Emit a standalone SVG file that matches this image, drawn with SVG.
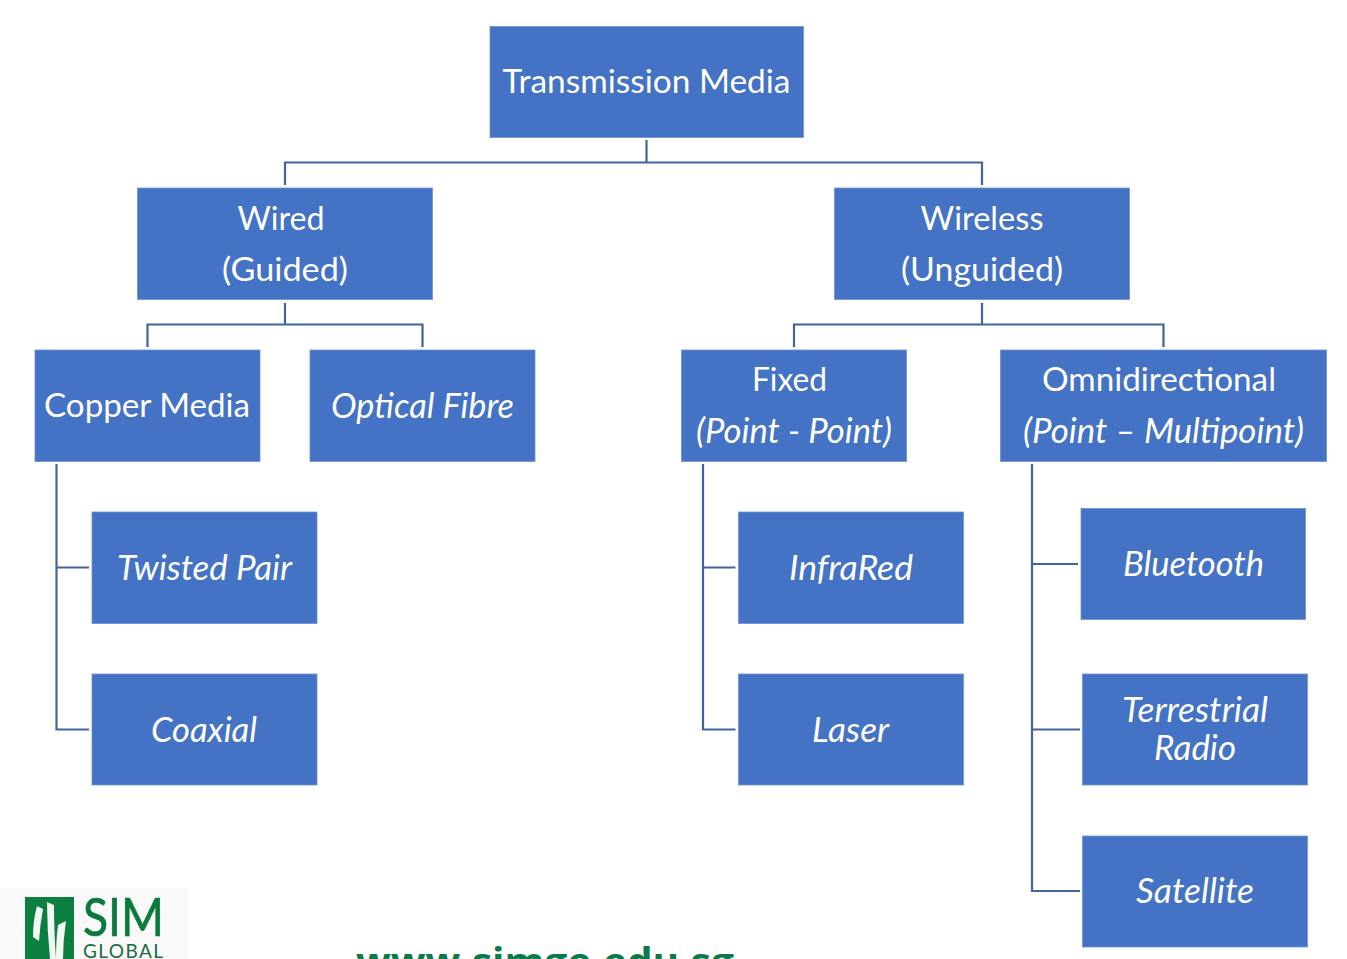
<svg xmlns="http://www.w3.org/2000/svg" width="1347" height="959" viewBox="0 0 1347 959">
<style>
.b{fill:#4472c4;stroke:#6f92d3;stroke-width:.8}
.t{font-family:Lato,"Liberation Sans",sans-serif;font-size:33.500px;fill:#fff;text-anchor:middle}
.i{font-style:italic;font-size:34.500px}
.c{fill:none;stroke:#41659f;stroke-width:2.200}
</style>
<rect width="1347" height="959" fill="#fff"/>
<g id="connectors" class="c">
<path d="M646.500 140V162.500M285 185V162.500H982V185"/>
<path d="M285 303V324.500M147.500 347V324.500H422.500V347"/>
<path d="M982 303V324.500M794 347V324.500H1163.500V347"/>
<path d="M56.500 464V729.500H89M56.500 567.500H89"/>
<path d="M703 464V729.500H735.500M703 567.500H735.500"/>
<path d="M1032 464V891H1080M1032 564H1078M1032 729.500H1080"/>
</g>
<g id="transmission-media"><rect class="b" x="490" y="26.500" width="313.500" height="111"/><text class="t" x="646.500" y="93" textLength="288" lengthAdjust="spacingAndGlyphs">Transmission Media</text></g>
<g id="wired"><rect class="b" x="137.500" y="188" width="295" height="111.500"/><text class="t" x="281" y="230" textLength="87" lengthAdjust="spacingAndGlyphs">Wired</text><text class="t" x="285" y="281" textLength="126" lengthAdjust="spacingAndGlyphs">(Guided)</text></g>
<g id="wireless"><rect class="b" x="834.500" y="188" width="295" height="111.500"/><text class="t" x="982" y="230" textLength="123" lengthAdjust="spacingAndGlyphs">Wireless</text><text class="t" x="982" y="281" textLength="162" lengthAdjust="spacingAndGlyphs">(Unguided)</text></g>
<g id="copper-media"><rect class="b" x="35" y="350" width="225" height="111.500"/><text class="t" x="147" y="417" textLength="206" lengthAdjust="spacingAndGlyphs">Copper Media</text></g>
<g id="optical-fibre"><rect class="b" x="310" y="350" width="225" height="111.500"/><text class="t i" x="422.500" y="417.500" textLength="183" lengthAdjust="spacingAndGlyphs">Optical Fibre</text></g>
<g id="fixed"><rect class="b" x="681.500" y="350" width="225" height="111.500"/><text class="t" x="789.500" y="391" textLength="75" lengthAdjust="spacingAndGlyphs">Fixed</text><text class="t i" x="794" y="442.500" textLength="196" lengthAdjust="spacingAndGlyphs">(Point - Point)</text></g>
<g id="omnidirectional"><rect class="b" x="1000.500" y="350" width="326" height="111.500"/><text class="t" x="1159" y="391" textLength="234" lengthAdjust="spacingAndGlyphs">Omnidirectional</text><text class="t i" x="1163.500" y="442.500" textLength="281" lengthAdjust="spacingAndGlyphs">(Point – Multipoint)</text></g>
<g id="twisted-pair"><rect class="b" x="92" y="512" width="225" height="111.500"/><text class="t i" x="204.500" y="579.500" textLength="175" lengthAdjust="spacingAndGlyphs">Twisted Pair</text></g>
<g id="coaxial"><rect class="b" x="92" y="674" width="225" height="111"/><text class="t i" x="204" y="741.500" textLength="106" lengthAdjust="spacingAndGlyphs">Coaxial</text></g>
<g id="infrared"><rect class="b" x="738.500" y="512" width="225" height="111.500"/><text class="t i" x="851" y="579.500" textLength="124" lengthAdjust="spacingAndGlyphs">InfraRed</text></g>
<g id="laser"><rect class="b" x="738.500" y="674" width="225" height="111"/><text class="t i" x="850.500" y="741.500" textLength="77" lengthAdjust="spacingAndGlyphs">Laser</text></g>
<g id="bluetooth"><rect class="b" x="1081" y="508.500" width="224.500" height="111"/><text class="t i" x="1193.500" y="575.500" textLength="141" lengthAdjust="spacingAndGlyphs">Bluetooth</text></g>
<g id="terrestrial-radio"><rect class="b" x="1082.500" y="674" width="225" height="111"/><text class="t i" x="1195" y="722" textLength="146" lengthAdjust="spacingAndGlyphs">Terrestrial</text><text class="t i" x="1195" y="760" textLength="82" lengthAdjust="spacingAndGlyphs">Radio</text></g>
<g id="satellite"><rect class="b" x="1082.500" y="836" width="225" height="111"/><text class="t i" x="1195" y="902.500" textLength="118" lengthAdjust="spacingAndGlyphs">Satellite</text></g>
<rect x="0" y="888" width="188" height="71" fill="#f9f9f9"/>
<rect x="25" y="897" width="49" height="62" fill="#0a7f3f"/>
<path d="M37 906L43 909Q40 925 39 941L33 937Q33 920 37 906ZM47 902L54 905Q54 930 56 959H50Q47 930 47 902ZM58 925L66 921Q63 940 63 959H56Q56 940 58 925Z" fill="#f2f7f3"/>
<text x="83" y="936" font-family="Lato,'Liberation Sans',sans-serif" font-size="52" fill="#0a7a3c" stroke="#0a7a3c" stroke-width=".7" textLength="81" lengthAdjust="spacingAndGlyphs">SIM</text>
<text x="83" y="958" font-family="Lato,'Liberation Sans',sans-serif" font-size="19" fill="#1c6b3d" textLength="80" lengthAdjust="spacing">GLOBAL</text>
<text x="356" y="975" font-family="'Open Sans','DejaVu Sans',sans-serif" font-weight="700" font-size="37" fill="#0a7a4a" textLength="378" lengthAdjust="spacingAndGlyphs">www.simge.edu.sg</text>
</svg>
